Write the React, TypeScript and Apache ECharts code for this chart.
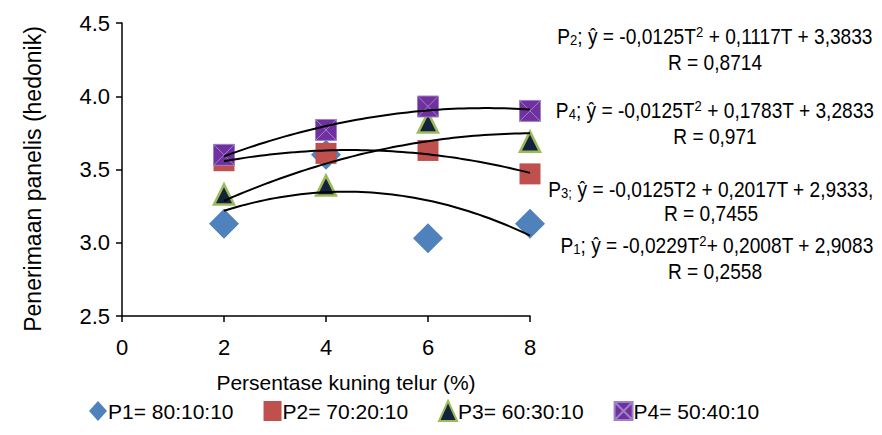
import React, { useEffect, useRef } from "react";
import * as echarts from "echarts";

const xTicks = [0, 2, 4, 6, 8];
const levels = [2, 4, 6, 8];
const seriesNames = ["P1= 80:10:10", "P2= 70:20:10", "P3= 60:30:10", "P4= 50:40:10"];
const p1 = [3.13, 3.6, 3.03, 3.13];
const p2 = [3.56, 3.61, 3.63, 3.47];
const p3 = [3.33, 3.39, 3.82, 3.69];
const p4 = [3.6, 3.77, 3.93, 3.9];
// regression coefficients [a, b, c] : y = aT^2 + bT + c (as printed in the chart)
const fitP1 = [-0.0229, 0.2008, 2.9083];
const fitP2 = [-0.0125, 0.1117, 3.3833];
const fitP3 = [-0.0125, 0.2017, 2.9333];
const fitP4 = [-0.0125, 0.1783, 3.2833];

const FONT = "'Liberation Sans Narrow', 'Arial Narrow', 'Liberation Sans', Arial, sans-serif";

function trend(coef: number[]) {
  const pts: number[][] = [];
  for (let i = 0; i <= 60; i++) {
    const t = 2 + i * 0.1;
    pts.push([t, coef[0] * t * t + coef[1] * t + coef[2]]);
  }
  return pts;
}

export default function App() {
  const ref = useRef<HTMLDivElement>(null);
  useEffect(() => {
    if (!ref.current) return;
    const chart = echarts.init(ref.current, null, { renderer: "svg" });
    const pair = (arr: number[]) => levels.map((x, i) => [x, arr[i]]);
    const trendSeries = (coef: number[]) => ({
      type: "line",
      data: trend(coef),
      showSymbol: false,
      symbol: "none",
      lineStyle: { color: "#000", width: 2 },
      silent: true,
      z: 3,
    });
    const rich = {
      a: { fontSize: 22, fontFamily: FONT, color: "#000" },
      sub: { fontSize: 15, fontFamily: FONT, color: "#000", verticalAlign: "bottom", padding: [8, 0, 0, 0] },
      sup: { fontSize: 15, fontFamily: FONT, color: "#000", verticalAlign: "top", padding: [0, 0, 8, 0] },
    };
    const eqText = (x: number, y: number, text: string) => ({
      type: "text",
      x,
      y,
      scaleX: 0.87,
      style: { text, rich, align: "center", verticalAlign: "middle", fill: "#000", font: `22px ${FONT}` },
    });
    chart.setOption({
      animation: false,
      textStyle: { fontFamily: FONT },
      grid: { left: 122, right: 352, top: 23, bottom: 119 },
      xAxis: {
        type: "value",
        min: 0,
        max: 8,
        interval: 2,
        data: xTicks,
        name: "Persentase kuning telur (%)",
        nameLocation: "middle",
        nameGap: 56,
        nameTextStyle: { fontSize: 21, color: "#000", fontFamily: FONT, padding: [0, 0, 0, 40] },
        axisLine: { lineStyle: { color: "#000", width: 1.5 } },
        axisTick: { show: true, length: 6, lineStyle: { color: "#000", width: 1.5 } },
        axisLabel: { fontSize: 22, color: "#000", margin: 20, fontFamily: FONT },
        splitLine: { show: false },
      },
      yAxis: {
        type: "value",
        min: 2.5,
        max: 4.5,
        interval: 0.5,
        axisLine: { show: true, lineStyle: { color: "#000", width: 1.5 } },
        axisTick: { show: true, length: 6, lineStyle: { color: "#000", width: 1.5 } },
        axisLabel: { fontSize: 22, color: "#000", margin: 12, fontFamily: FONT, formatter: (v: number) => v.toFixed(1) },
        splitLine: { show: false },
      },
      legend: {
        bottom: 8,
        left: 84,
        itemWidth: 18,
        itemHeight: 20,
        itemGap: 30,
        textStyle: { fontSize: 21, color: "#000", fontFamily: FONT, padding: [0, 0, 0, -4] },
        data: seriesNames,
      },
      series: [
        {
          name: seriesNames[0],
          type: "scatter",
          data: pair(p1),
          symbol: "diamond",
          symbolSize: 30,
          itemStyle: { color: "#4f81bd", opacity: 1 },
          z: 2,
        },
        {
          name: seriesNames[1],
          type: "scatter",
          data: pair(p2),
          symbol: "rect",
          symbolSize: 21,
          itemStyle: { color: "#c0504d", opacity: 1 },
          z: 2,
        },
        {
          name: seriesNames[2],
          type: "scatter",
          data: pair(p3),
          symbol: "triangle",
          symbolSize: [20, 20],
          itemStyle: { color: "#14233c", borderColor: "#9bbb59", borderWidth: 2.5, opacity: 1 },
          z: 2,
        },
        {
          name: seriesNames[3],
          type: "scatter",
          data: pair(p4),
          symbol: "path://M0,0L20,0L20,20L0,20Z M0,0L20,20 M20,0L0,20",
          symbolSize: 21,
          itemStyle: { color: "#7030a0", borderColor: "#9d82c6", borderWidth: 1, opacity: 1 },
          z: 2,
        },
        trendSeries(fitP1),
        trendSeries(fitP2),
        trendSeries(fitP3),
        trendSeries(fitP4),
      ],
      graphic: [
        {
          type: "text",
          x: 33,
          y: 179,
          rotation: Math.PI / 2,
          style: {
            text: "Penerimaan panelis (hedonik)",
            align: "center",
            verticalAlign: "middle",
            fill: "#000",
            font: `23px ${FONT}`,
          },
        },
        eqText(715, 36, "{a|P}{sub|2}{a|; ŷ = -0,0125T}{sup|2}{a| + 0,1117T + 3,3833}"),
        eqText(715, 62, "{a|R = 0,8714}"),
        eqText(715, 110, "{a|P}{sub|4}{a|; ŷ = -0,0125T}{sup|2}{a| + 0,1783T + 3,2833}"),
        eqText(715, 136, "{a|R = 0,971}"),
        eqText(711, 189, "{a|P}{sub|3;}{a| ŷ = -0,0125T2 + 0,2017T + 2,9333,}"),
        eqText(711, 213, "{a|R = 0,7455}"),
        eqText(717, 245, "{a|P}{sub|1}{a|; ŷ = -0,0229T}{sup|2}{a|+ 0,2008T + 2,9083}"),
        eqText(715, 271, "{a|R = 0,2558}"),
      ],
    });
    return () => chart.dispose();
  }, []);
  return <div ref={ref} style={{ width: 882, height: 435, margin: -8 }} />;
}
